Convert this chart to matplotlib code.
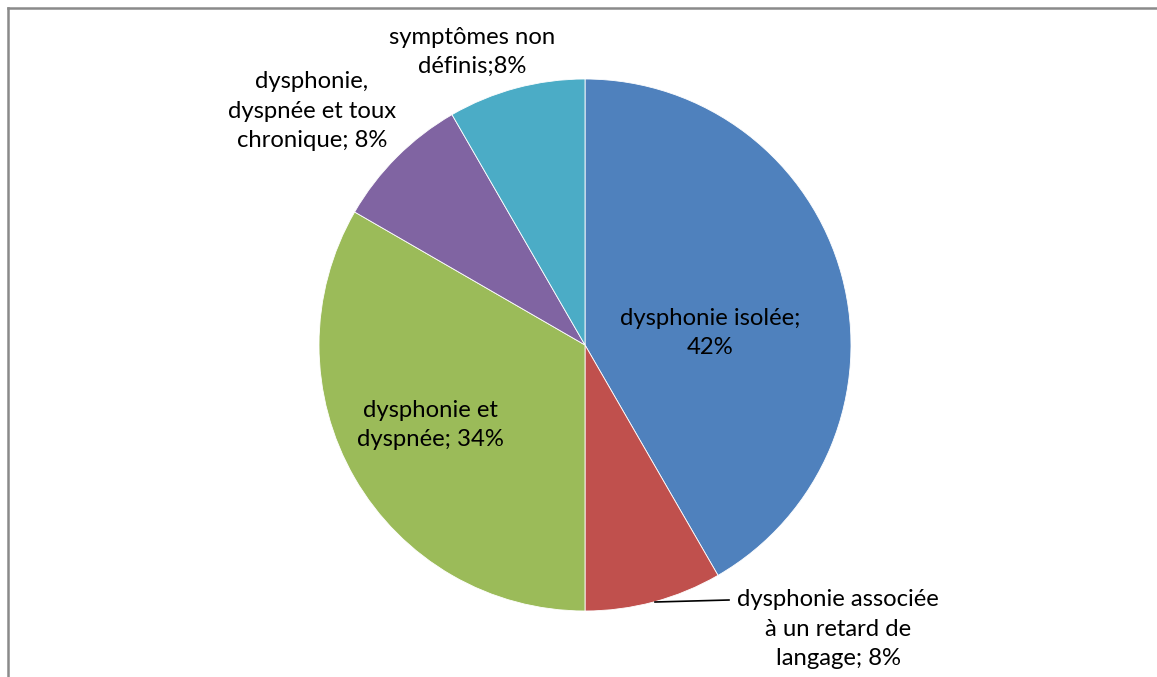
import matplotlib.pyplot as plt
from matplotlib.lines import Line2D

W, H = 1157, 677

# patients per symptom group (pie angles), and the label text shown
counts = [5, 1, 4, 1, 1]
labels = [
    "dysphonie isolée;\n42%",
    "dysphonie associée\nà un retard de\nlangage; 8%",
    "dysphonie et\ndyspnée; 34%",
    "dysphonie,\ndyspnée et toux\nchronique; 8%",
    "symptômes non\ndéfinis;8%",
]
colors = ["#4F81BD", "#C0504D", "#9BBB59", "#8064A2", "#4BACC6"]

# label centres in pixel coords (from top-left)
label_pos = [(710, 333), (838, 629), (430, 425), (312, 111), (472, 52)]

plt.rcParams['font.family'] = ['Lato', 'DejaVu Sans']

fig = plt.figure(figsize=(W / 100, H / 100), dpi=100)
ax = fig.add_axes([0, 0, 1, 1])

cx, cy, r = 585, H - 345, 266
ax.pie(counts, colors=colors, startangle=90, counterclock=False,
       center=(cx, cy), radius=r, frame=True,
       wedgeprops=dict(edgecolor='white', linewidth=0.6))
ax.set_xlim(0, W)
ax.set_ylim(0, H)
ax.set_aspect('equal')
ax.axis('off')

for txt, (x, y) in zip(labels, label_pos):
    ax.text(x, H - y, txt, ha='center', va='center', fontsize=17.2,
            color='black', linespacing=1.48)

# leader line for the small red slice
ax.plot([655, 729], [H - 602, H - 600], color='black', lw=1.2)

# chart frame (left and top edges visible)
fig.add_artist(Line2D([8 / W, 8 / W], [0, 1 - 8 / H], transform=fig.transFigure,
                      color='#8a8a8a', lw=1.8))
fig.add_artist(Line2D([8 / W, 1], [1 - 8 / H, 1 - 8 / H], transform=fig.transFigure,
                      color='#8a8a8a', lw=1.8))

fig.savefig("out.png", dpi=100)
